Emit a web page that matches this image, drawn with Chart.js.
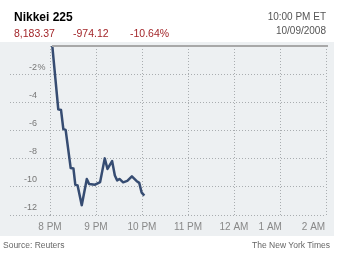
<!DOCTYPE html>
<html>
<head>
<meta charset="utf-8">
<script src="https://cdn.jsdelivr.net/npm/chart.js@4/dist/chart.umd.min.js"></script>
<style>
  body { margin: 0; background: #fff; font-family: "Liberation Sans", Arial, sans-serif; }
  #wrap { position: relative; width: 337px; height: 255px; overflow: hidden; }
  #wrap canvas { position: absolute; left: 0; top: 0; }
  .txt { position: absolute; white-space: nowrap; line-height: 14px; }
  #title { left: 14px; top: 10px; font-size: 12px; font-weight: bold; color: #000; }
  .red { top: 26px; font-size: 10.5px; color: #a3262a; }
  .stamp { right: 11px; font-size: 10px; color: #555; text-align: right; }
  .foot { top: 238px; font-size: 8.5px; color: #666; }
</style>
</head>
<body>
<div id="wrap">
  <canvas id="chart" width="337" height="255"></canvas>
  <div class="txt" id="title">Nikkei 225</div>
  <div class="txt red" style="left:14px">8,183.37</div>
  <div class="txt red" style="left:73px">-974.12</div>
  <div class="txt red" style="left:130px">-10.64%</div>
  <div class="txt stamp" style="top:10px">10:00 PM ET</div>
  <div class="txt stamp" style="top:24px">10/09/2008</div>
  <div class="txt foot" style="left:3px">Source: Reuters</div>
  <div class="txt foot" style="right:7px">The New York Times</div>
</div>
<script>
// hours after 8 PM, and percent change
const hours = [0.05, 0.18, 0.24, 0.29, 0.34, 0.45, 0.51, 0.55, 0.6, 0.69, 0.8, 0.85, 0.98,
  1.09, 1.19, 1.25, 1.35, 1.41, 1.46, 1.51, 1.59, 1.68, 1.78, 1.88, 1.94, 1.99, 2.05];
const changes = [0, -4.5, -4.55, -5.9, -5.96, -8.67, -8.7, -9.85, -9.9, -11.3, -9.44, -9.8, -9.85,
  -9.66, -7.98, -8.73, -8.17, -9.2, -9.54, -9.44, -9.68, -9.58, -9.26, -9.58, -9.72, -10.39, -10.62];
const tickLabels = ['8 PM', '9 PM', '10 PM', '11 PM', '12 AM', '1 AM', '2 AM'];
const yTicks = [0, -2, -4, -6, -8, -10, -12];

// the last two time labels sit a bit left of their gridlines
const labelShift = { 5: 7, 6: 9 };

const gridColor = '#a9adb0';
const yLabelLift = -7;

const plotBg = {
  id: 'plotBg',
  beforeDraw(chart) {
    const c = chart.ctx;
    c.save();
    c.fillStyle = '#edf0f2';
    c.fillRect(0, 42, 334, 194);
    c.restore();
  },
  afterDraw(chart) {
    const c = chart.ctx;
    const area = chart.chartArea;
    const y = chart.scales.y;
    c.save();
    // solid zero line along the top
    c.strokeStyle = '#a8a8a8';
    c.lineWidth = 2;
    c.beginPath();
    c.moveTo(area.left + 2, area.top);
    c.lineTo(area.right + 2, area.top);
    c.stroke();
    // percent sign after the first label
    c.fillStyle = '#777';
    c.font = '9px "Liberation Sans", Arial, sans-serif';
    c.textBaseline = 'middle';
    c.textAlign = 'left';
    c.fillText('%', 37.5, y.getPixelForValue(-2) + yLabelLift);
    c.restore();
  }
};

new Chart(document.getElementById('chart'), {
  type: 'line',
  data: {
    datasets: [{
      data: hours.map((h, i) => ({ x: h, y: changes[i] })),
      borderColor: '#364c72',
      borderWidth: 2.5,
      borderJoinStyle: 'round',
      pointRadius: 0,
      tension: 0
    }]
  },
  options: {
    responsive: false,
    animation: false,
    devicePixelRatio: 1,
    layout: { padding: { left: 10, right: 11, top: 46, bottom: 15 } },
    plugins: { legend: { display: false }, tooltip: { enabled: false } },
    scales: {
      x: {
        type: 'linear',
        min: 0,
        max: 6,
        border: { display: false, dash: [1, 2] },
        grid: { color: gridColor, drawTicks: false },
        ticks: {
          stepSize: 1,
          autoSkip: false,
          maxRotation: 0,
          padding: 6,
          color: '#888',
          font: { family: '"Liberation Sans", Arial, sans-serif', size: 10 },
          callback: v => tickLabels[v] + ' '.repeat(labelShift[v] || 0)
        },
        afterFit(s) { s.height = 25; s.paddingLeft = 0; s.paddingRight = 0; }
      },
      y: {
        min: -12,
        max: 0,
        afterBuildTicks(s) { s.ticks = yTicks.map(v => ({ value: v })); },
        border: { display: false, dash: [1, 2] },
        grid: {
          color: ctx => (ctx.tick && ctx.tick.value === 0 ? 'rgba(0,0,0,0)' : gridColor),
          tickColor: ctx => (ctx.tick && ctx.tick.value === 0 ? 'rgba(0,0,0,0)' : gridColor),
          tickLength: 40,
          tickBorderDash: [1, 2]
        },
        ticks: {
          padding: -27,
          labelOffset: yLabelLift,
          color: '#777',
          font: { family: '"Liberation Sans", Arial, sans-serif', size: 9 },
          callback: v => (v === 0 ? '' : String(v))
        },
        afterFit(s) { s.width = 40; s.paddingTop = 0; s.paddingBottom = 0; }
      }
    }
  },
  plugins: [plotBg]
});
</script>
</body>
</html>
